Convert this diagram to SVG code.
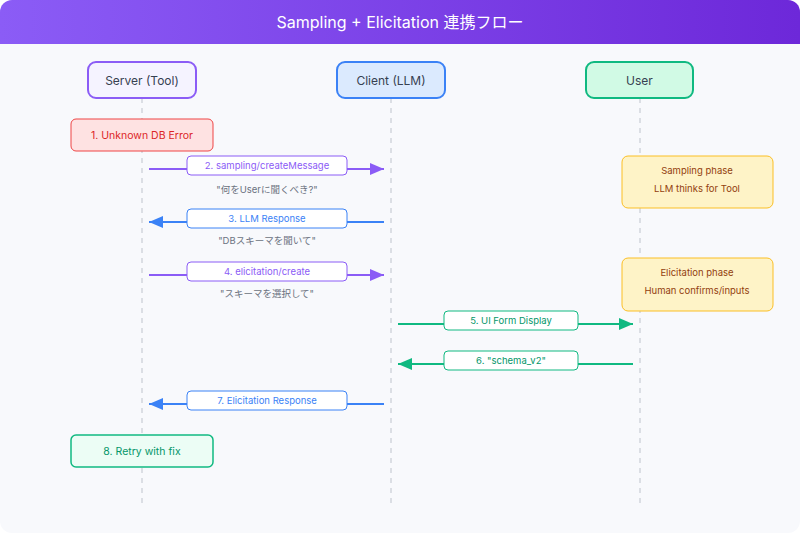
<svg xmlns="http://www.w3.org/2000/svg" width="800" height="533" viewBox="0 0 800 533">
<defs>
<linearGradient id="hdr" x1="0" y1="0" x2="1" y2="0">
<stop offset="0" stop-color="#8b5cf6"/>
<stop offset="1" stop-color="#6d28d9"/>
</linearGradient>
<clipPath id="cardClip"><rect x="0" y="0" width="800" height="533" rx="12"/></clipPath>
<marker id="ahP" markerWidth="14" markerHeight="12" refX="14" refY="6" orient="auto" markerUnits="userSpaceOnUse"><path d="M0,0 L14,6 L0,12 Z" fill="#8b5cf6"/></marker>
<marker id="ahB" markerWidth="14" markerHeight="12" refX="14" refY="6" orient="auto" markerUnits="userSpaceOnUse"><path d="M0,0 L14,6 L0,12 Z" fill="#3b82f6"/></marker>
<marker id="ahG" markerWidth="14" markerHeight="12" refX="14" refY="6" orient="auto" markerUnits="userSpaceOnUse"><path d="M0,0 L14,6 L0,12 Z" fill="#10b981"/></marker>
</defs>
<style>
text{font-family:Inter,"Noto Sans","Noto Sans CJK JP",sans-serif;text-anchor:middle;dominant-baseline:central}
.title{font-size:16px;fill:#ffffff}
.part{font-size:12px;fill:#374151}
.life{stroke:#d1d5db;stroke-width:1.5;stroke-dasharray:5 5;fill:none}
.lbl{fill:#ffffff;stroke-width:1}
.ltxt{font-size:9.5px}
.sub{font-size:9.5px;fill:#6b7280}
.note{fill:#fef3c7;stroke:#fbbf24;stroke-width:1}
.ntxt{font-size:9.5px;fill:#92400e}
.msg{stroke-width:2;fill:none}
</style>
<rect x="0" y="0" width="800" height="533" fill="#ffffff"/>
<g clip-path="url(#cardClip)">
<rect x="0" y="0" width="800" height="533" fill="#f8f9fc"/>
<rect x="0" y="0" width="800" height="44" fill="url(#hdr)"/>
</g>
<text class="title" x="400" y="22">Sampling + Elicitation 連携フロー</text>

<g id="lifelines">
<line class="life" x1="142" y1="98" x2="142" y2="507"/>
<line class="life" x1="391" y1="98" x2="391" y2="507"/>
<line class="life" x1="640" y1="98" x2="640" y2="507"/>
</g>

<g id="server">
<rect x="88" y="62" width="108" height="36" rx="8" fill="#f5f3ff" stroke="#8b5cf6" stroke-width="2"/>
<text class="part" x="142" y="80">Server (Tool)</text>
</g>
<g id="client">
<rect x="337" y="62" width="108" height="36" rx="8" fill="#dbeafe" stroke="#3b82f6" stroke-width="2"/>
<text class="part" x="391" y="80">Client (LLM)</text>
</g>
<g id="user">
<rect x="586" y="62" width="107" height="36" rx="8" fill="#d1fae5" stroke="#10b981" stroke-width="2"/>
<text class="part" x="639.5" y="80">User</text>
</g>

<g id="step1">
<rect x="71" y="119" width="142" height="32" rx="5" fill="#fee2e2" stroke="#ef4444" stroke-width="1"/>
<text x="142" y="135" font-size="10.5" fill="#dc2626">1. Unknown DB Error</text>
</g>

<g id="note-sampling">
<rect class="note" x="622" y="156" width="151" height="52" rx="6"/>
<text class="ntxt" x="697" y="170">Sampling phase</text>
<text class="ntxt" x="697" y="188">LLM thinks for Tool</text>
</g>
<g id="note-elicitation">
<rect class="note" x="622" y="258" width="151" height="53" rx="6"/>
<text class="ntxt" x="697" y="272">Elicitation phase</text>
<text class="ntxt" x="697" y="290">Human confirms/inputs</text>
</g>

<g id="step8">
<rect x="71" y="435" width="142" height="32" rx="5" fill="#ecfdf5" stroke="#10b981" stroke-width="1.5"/>
<text x="142" y="451" font-size="10.5" fill="#059669">8. Retry with fix</text>
</g>

<g id="connectors">
<line class="msg" x1="149" y1="169" x2="384" y2="169" stroke="#8b5cf6" marker-end="url(#ahP)"/>
<rect class="lbl" x="187" y="156" width="160" height="19" rx="4" stroke="#8b5cf6"/>
<text class="ltxt" x="267" y="165.5" fill="#8b5cf6">2. sampling/createMessage</text>
<text class="sub" x="267" y="189">"何をUserに聞くべき?"</text>

<line class="msg" x1="384" y1="222" x2="149" y2="222" stroke="#3b82f6" marker-end="url(#ahB)"/>
<rect class="lbl" x="187" y="209" width="160" height="19" rx="4" stroke="#3b82f6"/>
<text class="ltxt" x="267" y="218.5" fill="#3b82f6">3. LLM Response</text>
<text class="sub" x="267" y="240">"DBスキーマを聞いて"</text>

<line class="msg" x1="149" y1="275" x2="384" y2="275" stroke="#8b5cf6" marker-end="url(#ahP)"/>
<rect class="lbl" x="187" y="262" width="160" height="19" rx="4" stroke="#8b5cf6"/>
<text class="ltxt" x="267" y="271.5" fill="#8b5cf6">4. elicitation/create</text>
<text class="sub" x="267" y="293">"スキーマを選択して"</text>

<line class="msg" x1="398" y1="324" x2="633" y2="324" stroke="#10b981" marker-end="url(#ahG)"/>
<rect class="lbl" x="444" y="311" width="134" height="19" rx="4" stroke="#10b981"/>
<text class="ltxt" x="511" y="320.5" fill="#059669">5. UI Form Display</text>

<line class="msg" x1="633" y1="364" x2="398" y2="364" stroke="#10b981" marker-end="url(#ahG)"/>
<rect class="lbl" x="444" y="351" width="134" height="19" rx="4" stroke="#10b981"/>
<text class="ltxt" x="511" y="360.5" fill="#059669">6. "schema_v2"</text>

<line class="msg" x1="384" y1="404" x2="149" y2="404" stroke="#3b82f6" marker-end="url(#ahB)"/>
<rect class="lbl" x="187" y="391" width="160" height="19" rx="4" stroke="#3b82f6"/>
<text class="ltxt" x="267" y="400.5" fill="#3b82f6">7. Elicitation Response</text>
</g>
</svg>
